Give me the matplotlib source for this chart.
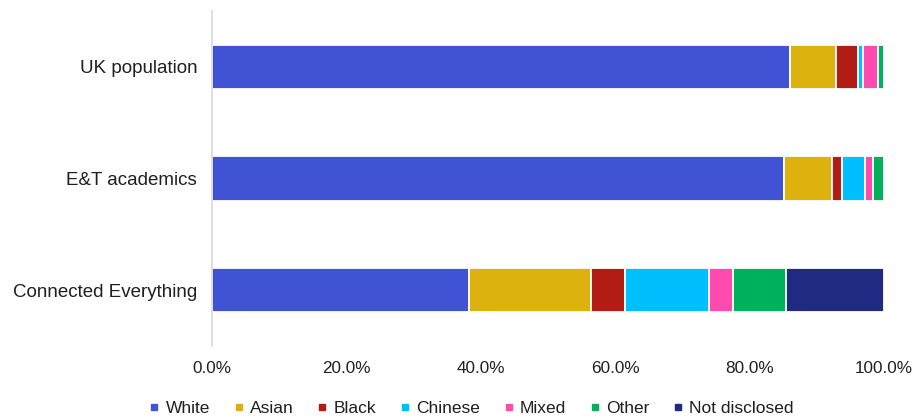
import matplotlib
matplotlib.use("Agg")
import matplotlib.pyplot as plt
from matplotlib.lines import Line2D
from matplotlib.ticker import PercentFormatter

plt.rcParams['font.family'] = ['Liberation Sans', 'DejaVu Sans']

categories = ["UK population", "E&T academics", "Connected Everything"]
groups = ["White", "Asian", "Black", "Chinese", "Mixed", "Other", "Not disclosed"]
white = [86.0, 85.1, 38.2]
asian = [6.9, 7.2, 18.2]
black = [3.3, 1.4, 5.1]
chinese = [0.7, 3.5, 12.5]
mixed = [2.2, 1.1, 3.5]
other = [0.9, 1.7, 7.9]
not_disclosed = [0.0, 0.0, 14.6]
series = [white, asian, black, chinese, mixed, other, not_disclosed]
colors = ["#3F53D4", "#DEB20E", "#B31B15", "#00BFFF", "#FF4AAF", "#00B15B", "#1F2B83"]
text_color = "#1F1F1F"

fig = plt.figure(figsize=(9.21, 4.19), dpi=100)
ax = fig.add_axes([0.2299, 0.174, 0.7299, 0.800])

ypos = list(range(len(categories)))
left = [0.0] * len(categories)
for name, vals, col in zip(groups, series, colors):
    ax.barh(ypos, vals, left=left, height=0.395, color=col,
            edgecolor="white", linewidth=1.3, label=name)
    left = [l + v for l, v in zip(left, vals)]

ax.set_xlim(0, 100)
ax.set_ylim(2.5, -0.5)
ax.set_yticks(ypos)
ax.set_yticklabels(categories, fontsize=13.5, color=text_color)
ax.set_xticks([0, 20, 40, 60, 80, 100])
ax.xaxis.set_major_formatter(PercentFormatter(decimals=1))
ax.tick_params(axis="x", length=0, pad=11, labelsize=12.3, colors=text_color)
ax.tick_params(axis="y", length=0, pad=10.5)

for side in ["top", "right", "bottom"]:
    ax.spines[side].set_visible(False)
ax.spines["left"].set_color("#D9D9D9")
ax.spines["left"].set_linewidth(1.2)

handles = [Line2D([0], [0], marker="s", linestyle="none", markersize=4.5,
                  markerfacecolor=c, markeredgecolor=c) for c in colors]
fig.legend(handles, groups, loc="center", bbox_to_anchor=(0.512, 0.026),
           ncol=7, frameon=False, fontsize=12.5, handlelength=0.6,
           handletextpad=0.35, columnspacing=1.35, labelcolor=text_color)

fig.savefig("out.png", dpi=100)
